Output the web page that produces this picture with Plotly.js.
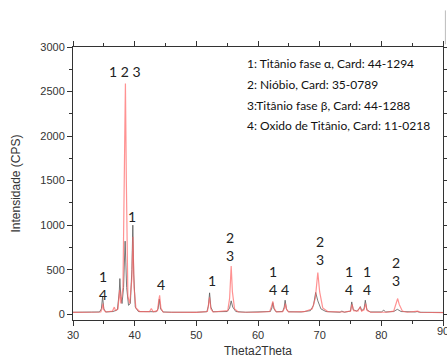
<!DOCTYPE html>
<html><head><meta charset="utf-8">
<script src="https://cdn.plot.ly/plotly-3.0.1.min.js"></script>
<style>html,body{margin:0;padding:0;background:#fff}#c{width:447px;height:358px}</style>
</head><body><div id="c"></div>
<script>
// Sample 1 (gray)
const xGray = [30,31.5,33,34.3,34.6,34.8,35.0,35.3,36.5,37.2,37.5,37.6,37.75,37.95,38.2,38.45,38.7,39.0,39.3,39.55,39.7,39.85,40.1,40.6,42.0,42.7,43.5,43.8,44.0,44.2,44.6,46,48,50,51.7,51.95,52.15,52.35,52.7,55.0,55.4,55.65,55.9,56.4,58,60,62.0,62.25,62.4,62.6,62.9,64.0,64.25,64.4,64.6,64.9,67,68.5,69.0,69.35,69.7,70.2,71,73.3,73.6,74,75.0,75.2,75.45,76.0,76.4,76.6,76.8,77.2,77.4,77.65,78.2,80.0,80.4,80.7,82.0,82.6,83.2,85.5,85.8,86.2,88,90];
const yGray = [22,20,24,25,60,195,60,25,30,50,250,400,200,120,300,820,300,100,120,500,1000,450,80,30,25,30,28,60,170,60,25,22,20,22,28,90,240,80,28,30,70,150,80,30,22,22,30,70,130,60,28,30,80,157,60,28,25,40,100,244,150,60,30,22,35,22,35,138,50,35,60,85,40,60,157,50,25,25,45,25,30,55,30,25,30,22,20,20];
// Sample 2 (red)
const xRed = [30,33,34.5,34.7,34.85,35.0,35.3,36.4,36.7,36.9,37.3,37.55,37.75,38.1,38.35,38.5,38.65,38.9,39.2,39.55,39.72,39.9,40.2,40.8,42.4,42.7,43.0,43.7,43.9,44.05,44.25,44.6,46,50,51.8,52.05,52.15,52.35,52.7,55.1,55.4,55.65,55.85,56.2,56.8,60,61.9,62.2,62.4,62.6,63.0,64.0,64.3,64.45,64.65,65.0,67.5,68.8,69.3,69.7,70.0,70.5,71.3,74,75.0,75.25,75.5,76.2,76.55,76.8,77.2,77.45,77.7,78.3,80.2,80.45,80.8,82.0,82.4,82.65,82.9,83.4,84.2,85.6,85.9,86.3,88,90];
const yRed = [20,22,25,60,120,50,25,35,80,40,60,270,120,300,1500,2590,1500,200,120,400,870,300,70,30,28,65,28,40,150,213,70,25,22,20,30,120,190,60,25,40,180,540,250,60,25,22,30,90,145,70,25,28,70,120,50,25,28,60,180,468,250,70,30,25,35,110,40,35,80,35,50,120,40,22,22,30,22,35,110,176,110,35,22,30,35,22,20,18];
// Peak labels
const labelX = [34.8,38.5,39.5,44.3,52.6,55.5,62.4,64.4,70.0,74.8,77.65,82.4];
const labelY = [326,2722,1093,334,374,764,382,278,711,382,382,485];
const labelText = ["1<br>4","1 2 3","1","4","1","2<br>3","1<br>4","4","2<br>3","1<br>4","1<br>4","2<br>3"];
// Phase legend
const legendLines = ["1: Titânio fase α, Card: 44-1294","2: Nióbio, Card: 35-0789","3:Titânio fase β, Card: 44-1288","4: Oxido de Titânio, Card: 11-0218"];
const legendY = [2817,2584,2348,2124];

const tickFont = {family:'"Liberation Sans", Arial, sans-serif',size:11,color:'#333'};
const traces = [
  {x:xGray,y:yGray,type:'scatter',mode:'lines',line:{color:'rgba(90,90,90,0.8)',width:1},hoverinfo:'none'},
  {x:xRed,y:yRed,type:'scatter',mode:'lines',line:{color:'rgba(255,100,100,0.7)',width:1.2},hoverinfo:'none'}
];
const ann = [];
labelX.forEach((x,i)=>ann.push({x:x,y:labelY[i],xref:'x',yref:'y',text:labelText[i],showarrow:false,
  font:{family:'Lato, "Open Sans", sans-serif',size:14,color:'#222'},yanchor:'middle',xanchor:'center'}));
legendLines.forEach((t,i)=>ann.push({x:0.466,y:legendY[i],xref:'paper',yref:'y',text:t,showarrow:false,
  font:{family:'Lato, sans-serif',size:12,color:'#111'},xanchor:'left',yanchor:'middle'}));
// last x tick label, cut by the page edge as in the original
ann.push({x:90,y:0,xref:'x',yref:'paper',text:'90',showarrow:false,font:tickFont,xanchor:'center',yanchor:'top',yshift:-3});

const axisCommon = {showline:true,linecolor:'#333',linewidth:1,ticks:'outside',ticklen:5,tickcolor:'#333',
  mirror:'ticks',showgrid:false,zeroline:false,tickfont:tickFont};
const layout = {
  width:447,height:358,margin:{l:73,r:4,t:47,b:38},paper_bgcolor:'#fff',plot_bgcolor:'#fff',showlegend:false,
  xaxis:Object.assign({},axisCommon,{range:[30,90],dtick:10,tick0:30,minor:{dtick:5,ticks:'outside',ticklen:3,tickcolor:'#333'},
    title:{text:'Theta2Theta',font:{family:'"Liberation Sans", Arial, sans-serif',size:12,color:'#333'},standoff:11}}),
  yaxis:Object.assign({},axisCommon,{range:[-65,3000],dtick:500,tick0:0,minor:{dtick:250,ticks:'outside',ticklen:3,tickcolor:'#333'},
    title:{text:'Intensidade (CPS)',font:{family:'"Liberation Sans", Arial, sans-serif',size:12,color:'#333'},standoff:17}}),
  shapes:[{type:'line',xref:'paper',yref:'paper',x0:1.0065,x1:1.0065,y0:1.01,y1:1.134,line:{color:'#bbb',width:1}}],
  annotations:ann
};
Plotly.newPlot('c',traces,layout,{staticPlot:true,displayModeBar:false});
</script></body></html>
